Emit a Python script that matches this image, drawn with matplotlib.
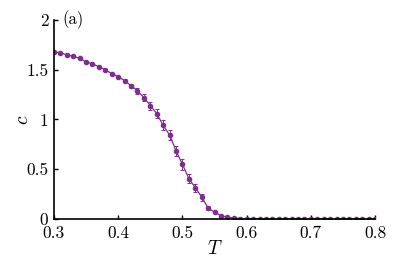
import numpy as np
import matplotlib
matplotlib.use("Agg")
import matplotlib.pyplot as plt

plt.rcParams['font.family'] = 'serif'
plt.rcParams['font.serif'] = ['cmr10', 'DejaVu Serif']
plt.rcParams['mathtext.fontset'] = 'cm'
plt.rcParams['axes.formatter.use_mathtext'] = True

# data
T = [0.30, 0.31, 0.32, 0.33, 0.34, 0.35, 0.36, 0.37, 0.38, 0.39,
     0.40, 0.41, 0.42, 0.43, 0.44, 0.45, 0.46, 0.47, 0.48, 0.49,
     0.50, 0.51, 0.52, 0.53, 0.54, 0.55, 0.56, 0.57, 0.58, 0.59,
     0.60, 0.61, 0.62, 0.63, 0.64, 0.65, 0.66, 0.67, 0.68, 0.69,
     0.70, 0.71, 0.72, 0.73, 0.74, 0.75, 0.76, 0.77, 0.78, 0.79, 0.80]
c = [1.68, 1.67, 1.65, 1.635, 1.615, 1.58, 1.56, 1.53, 1.50, 1.46,
     1.43, 1.39, 1.34, 1.29, 1.22, 1.14, 1.06, 0.94, 0.845, 0.685,
     0.55, 0.405, 0.315, 0.22, 0.11, 0.067, 0.033, 0.017, 0.008, 0.004,
     0.002, 0.001, 0.0, 0.0, 0.0, 0.0, 0.0, 0.0, 0.0, 0.0,
     0.0, 0.0, 0.0, 0.0, 0.0, 0.0, 0.0, 0.0, 0.0, 0.0, 0.0]
err = [0.008, 0.008, 0.008, 0.008, 0.008, 0.008, 0.008, 0.01, 0.01, 0.01,
       0.012, 0.015, 0.02, 0.03, 0.035, 0.04, 0.045, 0.05, 0.05, 0.05,
       0.055, 0.045, 0.04, 0.035, 0.02, 0.01, 0.005, 0.003, 0.002, 0.001,
       0.0, 0.0, 0.0, 0.0, 0.0, 0.0, 0.0, 0.0, 0.0, 0.0,
       0.0, 0.0, 0.0, 0.0, 0.0, 0.0, 0.0, 0.0, 0.0, 0.0, 0.0]

xticks = [0.3, 0.4, 0.5, 0.6, 0.7, 0.8]
yticks = [0, 0.5, 1, 1.5, 2]
purple = '#7E2F8E'

fig = plt.figure(figsize=(4.15, 2.6), dpi=100)
ax = fig.add_axes([0.130, 0.158, 0.774, 0.765])

ax.errorbar(T, c, yerr=err, color=purple, marker='o', markersize=3,
            linewidth=0.9, elinewidth=0.7, capsize=1.5, capthick=0.7)

ax.set_xlim(0.3, 0.8)
ax.set_ylim(0, 2)
ax.set_xticks(xticks)
ax.set_xticklabels(['%g' % v for v in xticks])
ax.set_yticks(yticks)
ax.set_yticklabels(['%g' % v for v in yticks])
ax.spines['top'].set_visible(False)
ax.spines['right'].set_visible(False)
ax.spines['left'].set_linewidth(1.2)
ax.spines['bottom'].set_linewidth(1.2)
ax.tick_params(direction='in', length=3, width=1, labelsize=12.5)
ax.tick_params(axis='x', pad=5)
ax.tick_params(axis='y', pad=4)
ax.set_xlabel('$T$', fontsize=14, labelpad=-1)
ax.set_ylabel('$c$', fontsize=14, labelpad=-4)
ax.text(0.025, 1.0, '(a)', transform=ax.transAxes, fontsize=12, va='center')

fig.savefig('out.png', dpi=100)
